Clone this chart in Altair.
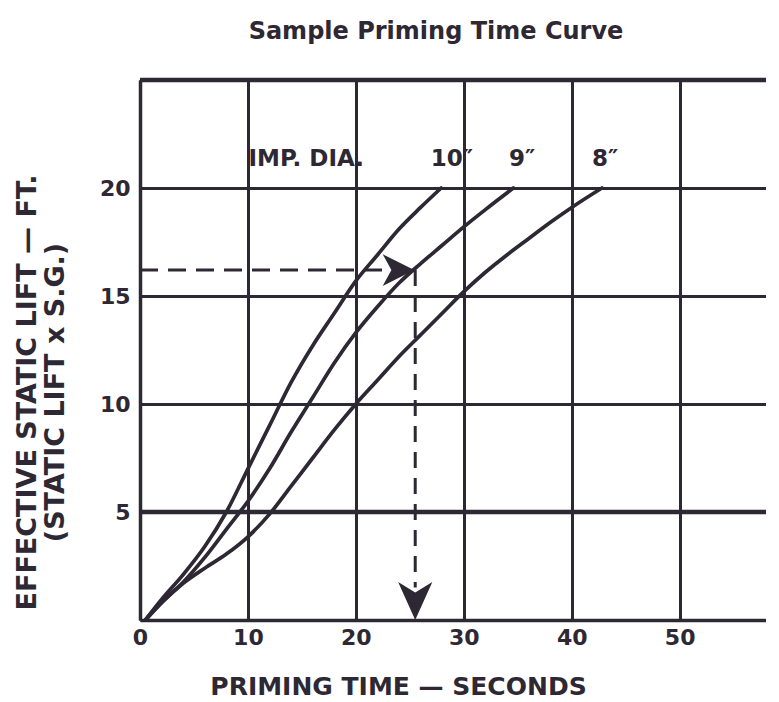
import altair as alt
import pandas as pd

# ---- data ----
time_10 = [0.5, 2, 4, 6, 8, 10, 12, 14, 16, 18, 20, 22, 24, 26, 27.9]
lift_10 = [0, 0.95, 2.1, 3.4, 5.0, 7.0, 9.0, 11.0, 12.7, 14.2, 15.7, 16.9, 18.1, 19.1, 20.0]

time_9 = [0.5, 2, 4, 6, 8, 10, 12, 14, 16, 18, 20, 22, 24, 26, 28, 30, 32, 34.6]
lift_9 = [0, 0.8, 1.75, 2.9, 4.2, 5.5, 7.0, 8.7, 10.3, 11.9, 13.3, 14.5, 15.6, 16.5, 17.35, 18.2, 19.0, 20.0]

time_8 = [0.5, 2, 4, 6, 8, 10, 12, 14, 16, 18, 20, 22, 24, 26, 28, 30, 32, 34, 36, 38, 40, 42.8]
lift_8 = [0, 0.8, 1.7, 2.4, 3.05, 3.85, 4.9, 6.2, 7.5, 8.8, 10.0, 11.1, 12.2, 13.2, 14.2, 15.2, 16.1, 16.9, 17.65, 18.4, 19.1, 20.0]

x_ticks = [0, 10, 20, 30, 40, 50]
y_ticks = [0, 5, 10, 15, 20, 25]

label_text = ["IMP. DIA.", "10\u2033", "9\u2033", "8\u2033"]
label_time = [15.4, 28.9, 35.4, 43.1]
label_lift = [21.35, 21.35, 21.35, 21.35]

example_lift = 16.2      # dashed guide: lift read on the axis
example_time = 25.5      # dashed guide: resulting priming time
h_guide_end = 22.6
v_guide_end = 1.5
right_arrow_time = 23.95
down_arrow_lift = 0.88

INK = "#2d2833"
FONT = "DejaVu Sans"

rows = []
for name, ts, ls in [("10", time_10, lift_10), ("9", time_9, lift_9), ("8", time_8, lift_8)]:
    for t, l in zip(ts, ls):
        rows.append({"dia": name, "t": t, "lift": l})
curves_df = pd.DataFrame(rows)

xs = alt.Scale(domain=[0, 58], nice=False, zero=False)
ys = alt.Scale(domain=[0, 25], nice=False, zero=False)

x_axis = alt.Axis(
    values=x_ticks, grid=True, gridColor=INK, gridWidth=3, gridOpacity=1,
    domain=True, domainColor=INK, domainWidth=3.5, ticks=False,
    labelFont=FONT, labelFontWeight="bold", labelFontSize=22, labelColor=INK,
    labelPadding=7, labelFlush=False,
    title="PRIMING TIME \u2014 SECONDS", titleFont=FONT, titleFontWeight="bold",
    titleFontSize=25, titleColor=INK, titleX=258, titleY=74,
    titleAlign="center", titleBaseline="alphabetic",
)
y_axis = alt.Axis(
    values=y_ticks, grid=True, gridColor=INK, gridWidth=3, gridOpacity=1,
    domain=True, domainColor=INK, domainWidth=3.5, ticks=False,
    labelExpr="datum.value > 0 && datum.value < 25 ? datum.label : ''",
    labelFont=FONT, labelFontWeight="bold", labelFontSize=22, labelColor=INK,
    labelPadding=10, labelFlush=False,
    title=["EFFECTIVE STATIC LIFT \u2014 FT.", "(STATIC LIFT x S.G.)"],
    titleFont=FONT, titleFontWeight="bold", titleFontSize=27, titleColor=INK,
    titleAngle=270, titleX=-113, titleY=312, titleAlign="center",
    titleBaseline="middle", titleLineHeight=28,
)

curves = alt.Chart(curves_df).mark_line(
    color=INK, strokeWidth=3.7, interpolate="monotone", strokeCap="round"
).encode(
    x=alt.X("t:Q", scale=xs, axis=x_axis),
    y=alt.Y("lift:Q", scale=ys, axis=y_axis),
    detail="dia:N",
)

thick_df = pd.DataFrame({"lift": [5, 25]})
thick = alt.Chart(thick_df).mark_rule(color=INK, strokeWidth=4.5).encode(
    y=alt.Y("lift:Q", scale=ys)
)

h_df = pd.DataFrame({"t0": [0], "t1": [h_guide_end], "lift": [example_lift]})
h_dash = alt.Chart(h_df).mark_rule(color=INK, strokeWidth=3, strokeDash=[18, 10]).encode(
    x=alt.X("t0:Q", scale=xs), x2="t1:Q", y=alt.Y("lift:Q", scale=ys)
)
v_df = pd.DataFrame({"t": [example_time], "l0": [example_lift], "l1": [v_guide_end]})
v_dash = alt.Chart(v_df).mark_rule(color=INK, strokeWidth=3, strokeDash=[16, 10]).encode(
    x=alt.X("t:Q", scale=xs), y=alt.Y("l0:Q", scale=ys), y2="l1:Q"
)

ra_df = pd.DataFrame({"t": [right_arrow_time], "lift": [example_lift]})
right_arrow = alt.Chart(ra_df).mark_point(
    shape="M1,0L-1,-1L-0.45,0L-1,1Z", filled=True, color=INK, opacity=1, size=1000
).encode(x=alt.X("t:Q", scale=xs), y=alt.Y("lift:Q", scale=ys))

da_df = pd.DataFrame({"t": [example_time], "lift": [down_arrow_lift]})
down_arrow = alt.Chart(da_df).mark_point(
    shape="M0,1L-0.9,-1L0,-0.45L0.9,-1Z", filled=True, color=INK, opacity=1, size=1444
).encode(x=alt.X("t:Q", scale=xs), y=alt.Y("lift:Q", scale=ys))

lab_df = pd.DataFrame({"text": label_text, "t": label_time, "lift": label_lift})
labels = alt.Chart(lab_df).mark_text(
    font=FONT, fontWeight="bold", fontSize=23, color=INK, align="center", baseline="middle"
).encode(x=alt.X("t:Q", scale=xs), y=alt.Y("lift:Q", scale=ys), text="text:N")

chart = alt.layer(curves, thick, h_dash, v_dash, right_arrow, down_arrow, labels).properties(
    width=626, height=540,
    title=alt.TitleParams(
        "Sample Priming Time Curve", font=FONT, fontWeight="bold", fontSize=24,
        color=INK, anchor="middle", dx=-17, offset=15, baseline="alphabetic",
    ),
    autosize=alt.AutoSizeParams(type="none"),
    padding={"left": 132, "top": 72, "right": 0, "bottom": 90},
    background="white",
).configure_view(stroke=None)

chart.save("out.html", embed_options={"renderer": "svg", "actions": False})
